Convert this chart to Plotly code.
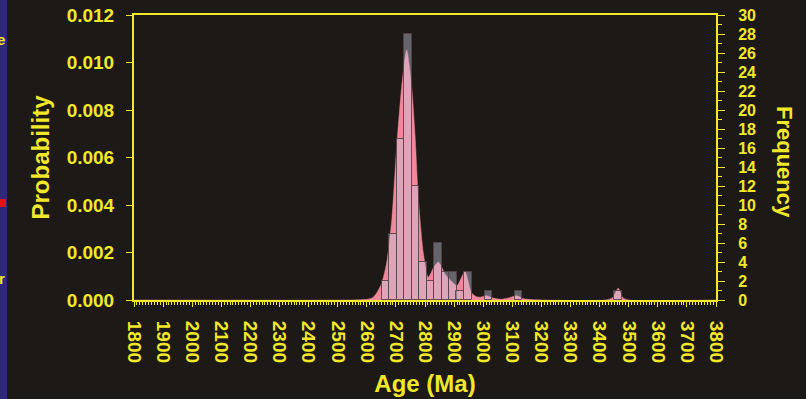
import plotly.graph_objects as go

# Age histogram: bin centres (Ma) and number of analyses per bin
bin_centers = [2664, 2690, 2716, 2741, 2767, 2793, 2818, 2844, 2870, 2896,
               2921, 2947, 3018, 3121, 3464]
bin_counts = [2, 7, 17, 28, 12, 4, 2, 6, 3, 3, 1, 3, 1, 1, 1]
bin_width = 25.7

# Relative probability density curve
curve_age = [1800, 2550, 2600, 2620, 2634, 2651, 2668, 2686, 2703, 2720,
             2737, 2754, 2766, 2777, 2794, 2811, 2831, 2846, 2869, 2890,
             2910, 2937, 2960, 2977, 2990, 3010, 3035, 3060, 3090, 3115,
             3140, 3200, 3420, 3445, 3464, 3480, 3500, 3800]
curve_prob = [0, 0, 0.00003, 0.0001, 0.0003, 0.0007, 0.00155, 0.0034, 0.0065, 0.0090,
              0.01053, 0.0090, 0.0069, 0.0043, 0.0020, 0.00095, 0.0014, 0.0016, 0.0011, 0.0008,
              0.0006, 0.0012, 0.0003, 0.00014, 0.00012, 0.00018, 0.00008, 0.00003, 0.0001, 0.00018,
              0.00005, 0, 0, 0.0001, 0.0005, 0.0001, 0, 0]

age_ticks = [1800, 1900, 2000, 2100, 2200, 2300, 2400, 2500, 2600, 2700, 2800,
             2900, 3000, 3100, 3200, 3300, 3400, 3500, 3600, 3700, 3800]
prob_ticks = [0.000, 0.002, 0.004, 0.006, 0.008, 0.010, 0.012]
freq_ticks = [0, 2, 4, 6, 8, 10, 12, 14, 16, 18, 20, 22, 24, 26, 28, 30]

YELLOW = "rgb(240,232,40)"
BG = "#1d1917"
FONT = "Liberation Sans, Arial, sans-serif"

# plot area in pixels
L, R, T, B = 134, 716, 15, 300


def px_x(px):
    return (px - L) / float(R - L)


def px_y(py):
    return (B - py) / float(B - T)


fig = go.Figure()

fig.add_trace(go.Scatter(
    x=curve_age, y=curve_prob, mode="lines",
    line=dict(color="rgb(240,135,155)", width=0.5, shape="spline", smoothing=0.6),
    fill="tozeroy", fillcolor="rgb(240,135,155)",
    hoverinfo="skip", showlegend=False,
))

fig.add_trace(go.Bar(
    x=bin_centers, y=bin_counts, width=bin_width, yaxis="y2",
    marker=dict(color="rgba(200,205,225,0.42)",
                line=dict(color="rgba(85,65,75,0.9)", width=1)),
    showlegend=False,
))

tickfont = dict(family=FONT, size=19, color=YELLOW, weight="bold")

fig.update_layout(
    width=806, height=399,
    margin=dict(l=L, r=806 - R, t=T, b=399 - B),
    paper_bgcolor=BG, plot_bgcolor=BG,
    bargap=0,
    xaxis=dict(
        range=[1800, 3800], tickvals=age_ticks, tickangle=90,
        ticks="outside", ticklen=5, tickwidth=1, tickcolor=YELLOW,
        ticklabelstandoff=10, automargin=False,
        minor=dict(dtick=10, ticks="outside", ticklen=3, tickcolor=YELLOW, tickwidth=1),
        showline=True, linecolor=YELLOW, linewidth=2, mirror=True,
        showgrid=False, zeroline=False, tickfont=tickfont,
        title=dict(text="Age (Ma)", standoff=13,
                   font=dict(family=FONT, size=24, color=YELLOW, weight="bold")),
    ),
    yaxis=dict(
        range=[0, 0.012], tickvals=prob_ticks, tickformat=".3f",
        ticks="outside", ticklen=6, tickwidth=1, tickcolor=YELLOW,
        ticklabelstandoff=8, automargin=False,
        showline=True, linecolor=YELLOW, linewidth=2, mirror=True,
        showgrid=False, zeroline=False, tickfont=tickfont,
        title=dict(text="Probability", standoff=10,
                   font=dict(family=FONT, size=24, color=YELLOW, weight="bold")),
    ),
    yaxis2=dict(
        range=[0, 30], tickvals=freq_ticks, overlaying="y", side="right",
        ticks="outside", ticklen=8, tickwidth=1, tickcolor=YELLOW,
        ticklabelstandoff=10, automargin=False,
        minor=dict(dtick=1, ticks="outside", ticklen=5, tickcolor=YELLOW, tickwidth=1),
        showline=False, showgrid=False, zeroline=False,
        tickfont=dict(family=FONT, size=16, color=YELLOW, weight="bold"),
    ),
)

fig.add_annotation(text="Frequency", textangle=90, x=px_x(785), y=px_y(162),
                   xref="paper", yref="paper", xanchor="center", yanchor="middle",
                   showarrow=False,
                   font=dict(family=FONT, size=22, color=YELLOW, weight="bold"))

# slide border decorations along the left edge
fig.add_shape(type="rect", xref="paper", yref="paper",
              x0=px_x(0), x1=px_x(7), y0=px_y(399), y1=px_y(0),
              fillcolor="rgb(48,40,125)", line=dict(width=0), layer="below")
fig.add_shape(type="rect", xref="paper", yref="paper",
              x0=px_x(0), x1=px_x(6), y0=px_y(207), y1=px_y(199),
              fillcolor="rgb(225,20,20)", line=dict(width=0))
for ch, yy in (("e", 39), ("r", 278)):
    fig.add_annotation(text=ch, x=px_x(6.5), y=px_y(yy), xref="paper", yref="paper",
                       xanchor="right", yanchor="middle", showarrow=False,
                       font=dict(family=FONT, size=15, color=YELLOW, weight="bold"))

fig.write_html("out.html")
